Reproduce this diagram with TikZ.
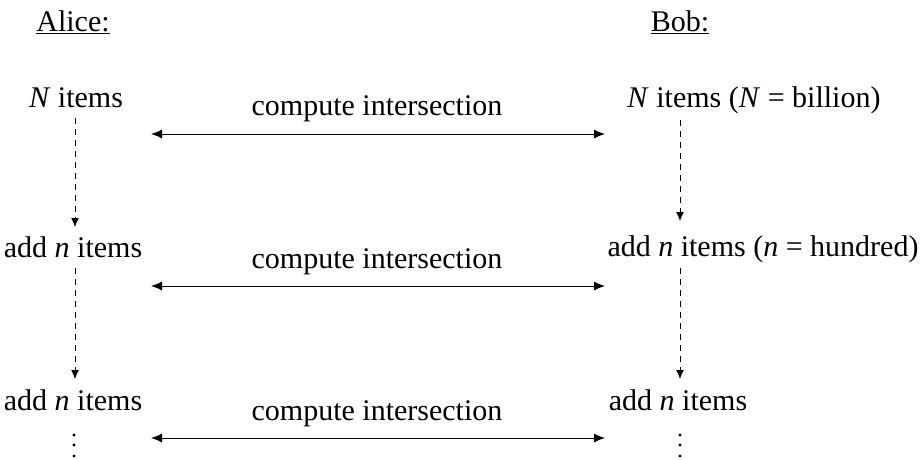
\documentclass[tikz,border=0pt]{standalone}
\usepackage{fontspec}
\setmainfont{Liberation Serif}
\usetikzlibrary{arrows.meta}
\begin{document}
\begin{tikzpicture}[x=1pt,y=-1pt,
  txt/.style={inner sep=0pt, anchor=base, font=\fontsize{30}{36}\selectfont},
  flow/.style={dashed, dash pattern=on 6pt off 5pt, line width=1pt, -{Latex[length=9pt,width=8pt]}},
  talk/.style={line width=1pt, {Latex[length=11pt,width=9pt]}-{Latex[length=11pt,width=9pt]}},
  dotmark/.style={fill=black}]
\useasboundingbox (0,0) rectangle (920,459);
% titles
\node[txt] (alice) at (73,31) {\underline{Alice:}};
\node[txt] (bob) at (680,31) {\underline{Bob:}};
% Alice column
\node[txt] (a1) at (76,107) {\textit{N} items};
\node[txt] (a2) at (73,257) {add \textit{n} items};
\node[txt] (a3) at (73,410) {add \textit{n} items};
\coordinate (a4) at (74,445);
\foreach \dy in {-10,0,11} \fill[dotmark] ([yshift=-\dy pt]a4) circle (1.7pt);
% Bob column
\node[txt] (b1) at (754,107) {\textit{N} items (\textit{N} = billion)};
\node[txt] (b2) at (763,256) {add \textit{n} items (\textit{n} = hundred)};
\node[txt] (b3) at (678,410) {add \textit{n} items};
\coordinate (b4) at (680,445);
\foreach \dy in {-10,0,11} \fill[dotmark] ([yshift=-\dy pt]b4) circle (1.7pt);
% dashed flows
\coordinate (a1s) at (75,118); \coordinate (a2n) at (75,227);
\coordinate (a2s) at (75,268); \coordinate (a3n) at (75,379);
\coordinate (b1s) at (680,120); \coordinate (b2n) at (680,221);
\coordinate (b2s) at (680,268); \coordinate (b3n) at (680,379);
\draw[flow] (a1s) -- (a2n);
\draw[flow] (a2s) -- (a3n);
\draw[flow] (b1s) -- (b2n);
\draw[flow] (b2s) -- (b3n);
% exchanges
\coordinate (l1) at (151,134); \coordinate (r1) at (605,134);
\coordinate (l2) at (151,286); \coordinate (r2) at (605,286);
\coordinate (l3) at (151,438); \coordinate (r3) at (605,438);
\draw[talk] (l1) -- (r1);
\draw[talk] (l2) -- (r2);
\draw[talk] (l3) -- (r3);
\node[txt] (c1) at (377,115) {compute intersection};
\node[txt] (c2) at (377,268) {compute intersection};
\node[txt] (c3) at (377,420) {compute intersection};
\end{tikzpicture}
\end{document}
